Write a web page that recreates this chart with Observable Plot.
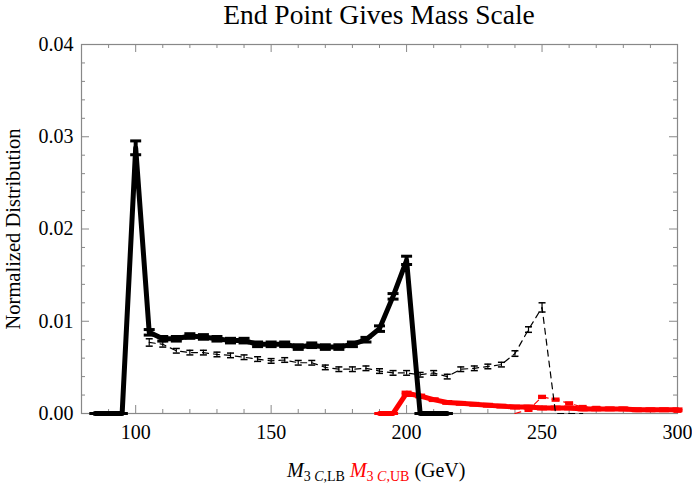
<!DOCTYPE html>
<html><head><meta charset="utf-8">
<script src="https://cdn.jsdelivr.net/npm/d3@7"></script>
<script src="https://cdn.jsdelivr.net/npm/@observablehq/plot@0.6"></script>
<style>
body{margin:0;background:#fff;}
#wrap{position:relative;width:692px;height:487px;font-family:"Liberation Serif","Times New Roman",serif;color:#000;}
#chart svg text{font-family:"Liberation Serif","Times New Roman",serif;}
#title{position:absolute;left:81px;width:596px;top:-1px;text-align:center;font-size:27.5px;line-height:32px;}
#xlabel{position:absolute;left:287px;top:458px;font-size:20px;line-height:24px;white-space:nowrap;}
#xlabel sub{font-size:14px;line-height:0;vertical-align:-4px;}
.red{color:#ff0000;}
</style>
</head><body>
<div id="wrap">
<div id="chart"></div>
<div id="title">End Point Gives Mass Scale</div>
<div id="xlabel"><i>M</i><sub>3 <i>C</i>,LB</sub> <span class="red"><i>M</i><sub>3 <i>C</i>,UB</sub></span> (GeV)</div>
</div>
<script>
// ---- data ----
const xSolid = [85,90,95,100,105,110,115,120,125,130,135,140,145,150,155,160,165,170,175,180,185,190,195,200,205,210,215];
const ySolid = [0,0,0,0.0288,0.0088,0.0081,0.0081,0.0084,0.0083,0.0081,0.0079,0.0079,0.0075,0.0075,0.0075,0.0072,0.0074,0.0072,0.0072,0.0075,0.0080,0.0092,0.0127,0.0166,0,0,0];
const eSolid = [0,0,0,0.00075,0.0003,0.00025,0.00025,0.00025,0.00025,0.00025,0.00025,0.00025,0.00025,0.00025,0.00025,0.00025,0.00025,0.00025,0.00025,0.00025,0.00025,0.0003,0.0003,0.00045,0,0,0];

const xDashed = [105,110,115,120,125,130,135,140,145,150,155,160,165,170,175,180,185,190,195,200,205,210,215,220,225,230,235,240,245,250,255,260,265];
const yDashed = [0.0077,0.0075,0.0068,0.0066,0.0066,0.0064,0.0063,0.0061,0.0059,0.0057,0.0058,0.0055,0.0055,0.0050,0.0048,0.0048,0.0049,0.0046,0.0044,0.0044,0.0042,0.0044,0.0040,0.0048,0.0049,0.0051,0.0053,0.0065,0.0091,0.0115,0,0,0];
const eDashed = [0.0004,0.0003,0.00025,0.00025,0.00025,0.00025,0.00025,0.00025,0.00025,0.00025,0.00025,0.00025,0.00025,0.00025,0.00025,0.00025,0.00025,0.00025,0.00025,0.00025,0.00025,0.00025,0.00025,0.00025,0.00025,0.00025,0.00025,0.0003,0.0003,0.0005,0,0,0];

const xRed = [190,195,200,205,210,215,220,225,230,235,240,245,250,255,260,265,270,275,280,285,290,295,300];
const yRed = [0,0,0.0022,0.0019,0.0015,0.0012,0.0011,0.0010,0.0009,0.0008,0.0007,0.0007,0.0006,0.0006,0.0006,0.0005,0.0005,0.0005,0.0005,0.0004,0.0004,0.0004,0.0004];
const eRed = [0,0,0.00012,0.0001,0.0001,0.0001,0.0001,0.0001,0.0001,0.0001,0.0001,0.0001,0.0001,0.0001,0.0001,0.0001,0.0001,0.0001,0.0001,0.0001,0.0001,0.0001,0.0001];

const xRedDashed = [240,245,250,255,260,265,270,275,280,285,290,295,300];
const yRedDashed = [0,0.0004,0.0018,0.0015,0.0011,0.0007,0.0006,0.0005,0.0005,0.0004,0.0004,0.0004,0.0003];
const eRedDashed = [0,0.0001,0.0001,0.0001,0.0001,0.0001,0.0001,0.0001,0.0001,0.0001,0.0001,0.0001,0.0001];

const xMajorTicks = [100,150,200,250,300];
const xMinorTicks = [80,90,110,120,130,140,160,170,180,190,210,220,230,240,260,270,280,290];
const yMajorTicks = [0,0.01,0.02,0.03,0.04];
const yMinorTicks = [0.002,0.004,0.006,0.008,0.012,0.014,0.016,0.018,0.022,0.024,0.026,0.028,0.032,0.034,0.036,0.038];

// ---- layout ----
const W = 692, H = 487, mL = 81, mR = 15, mT = 44, mB = 74;
const iW = W - mL - mR, iH = H - mT - mB;
const axisColor = "#888";
const serif = "'Liberation Serif','Times New Roman',serif";

const series = (xs, ys, es) => xs.map((x, i) => ({x, y: ys[i], e: es[i]}));
const cap = hw => ({draw(ctx){ ctx.moveTo(-hw, 0); ctx.lineTo(hw, 0); }});
function errMarks(data, color, ruleW, hw, capW){
  const d = data.filter(p => p.e > 0);
  return [
    Plot.ruleX(d, {x: "x", y1: p => p.y - p.e, y2: p => p.y + p.e, stroke: color, strokeWidth: ruleW}),
    Plot.dot(data, {x: "x", y: p => p.y + p.e, symbol: cap(hw), r: 3, stroke: color, fill: "none", strokeWidth: capW}),
    Plot.dot(data, {x: "x", y: p => p.y - p.e, symbol: cap(hw), r: 3, stroke: color, fill: "none", strokeWidth: capW})
  ];
}

const solid = series(xSolid, ySolid, eSolid);
const dashed = series(xDashed, yDashed, eDashed);
const red = series(xRed, yRed, eRed);
const redDashed = series(xRedDashed, yRedDashed, eRedDashed);

const chart = Plot.plot({
  width: W, height: H, marginLeft: mL, marginRight: mR, marginTop: mT, marginBottom: mB,
  style: {fontFamily: serif, fontSize: "20px", color: "#000", background: "#fff"},
  x: {domain: [80, 300]},
  y: {domain: [0, 0.04]},
  marks: [
    // ticks (inward, all four sides)
    Plot.tickX(xMinorTicks, {x: d => d, insetTop: iH - 4, stroke: axisColor}),
    Plot.tickX(xMinorTicks, {x: d => d, insetBottom: iH - 4, stroke: axisColor}),
    Plot.tickX(xMajorTicks, {x: d => d, insetTop: iH - 8, stroke: axisColor}),
    Plot.tickX(xMajorTicks, {x: d => d, insetBottom: iH - 8, stroke: axisColor}),
    Plot.tickY(yMinorTicks, {y: d => d, insetRight: iW - 4, stroke: axisColor}),
    Plot.tickY(yMinorTicks, {y: d => d, insetLeft: iW - 4, stroke: axisColor}),
    Plot.tickY(yMajorTicks, {y: d => d, insetRight: iW - 8, stroke: axisColor}),
    Plot.tickY(yMajorTicks, {y: d => d, insetLeft: iW - 8, stroke: axisColor}),
    Plot.frame({stroke: axisColor, strokeWidth: 1.2}),
    Plot.axisX(xMajorTicks, {tickSize: 0, tickPadding: 11, fontSize: 20, fontFamily: serif, label: null}),
    Plot.axisY(yMajorTicks, {tickSize: 0, tickPadding: 8, fontSize: 20, fontFamily: serif, tickFormat: d => d.toFixed(2), label: null}),
    Plot.text(["Normalized Distribution"], {frameAnchor: "left", rotate: -90, dx: -68, fontSize: 20.5, fontFamily: serif, textAnchor: "middle", lineAnchor: "middle"}),
    // red UB (solid)
    Plot.line(red, {x: "x", y: "y", stroke: "#ff0000", strokeWidth: 5}),
    ...errMarks(red, "#ff0000", 5, 5, 3),
    // red UB (dashed)
    Plot.line(redDashed, {x: "x", y: "y", stroke: "#ff0000", strokeWidth: 1.2, strokeDasharray: "6,5"}),
    ...errMarks(redDashed.filter(p => p.y > 0), "#ff0000", 1.5, 4, 2.5),
    // black LB (dashed)
    Plot.line(dashed, {x: "x", y: "y", stroke: "#000", strokeWidth: 1.2, strokeDasharray: "6,5"}),
    ...errMarks(dashed.filter(p => p.y > 0), "#000", 1.2, 3.5, 1.5),
    // black LB (solid)
    Plot.line(solid, {x: "x", y: "y", stroke: "#000", strokeWidth: 5}),
    ...errMarks(solid, "#000", 4, 5.5, 3)
  ]
});
document.getElementById("chart").appendChild(chart);
</script>
</body></html>
